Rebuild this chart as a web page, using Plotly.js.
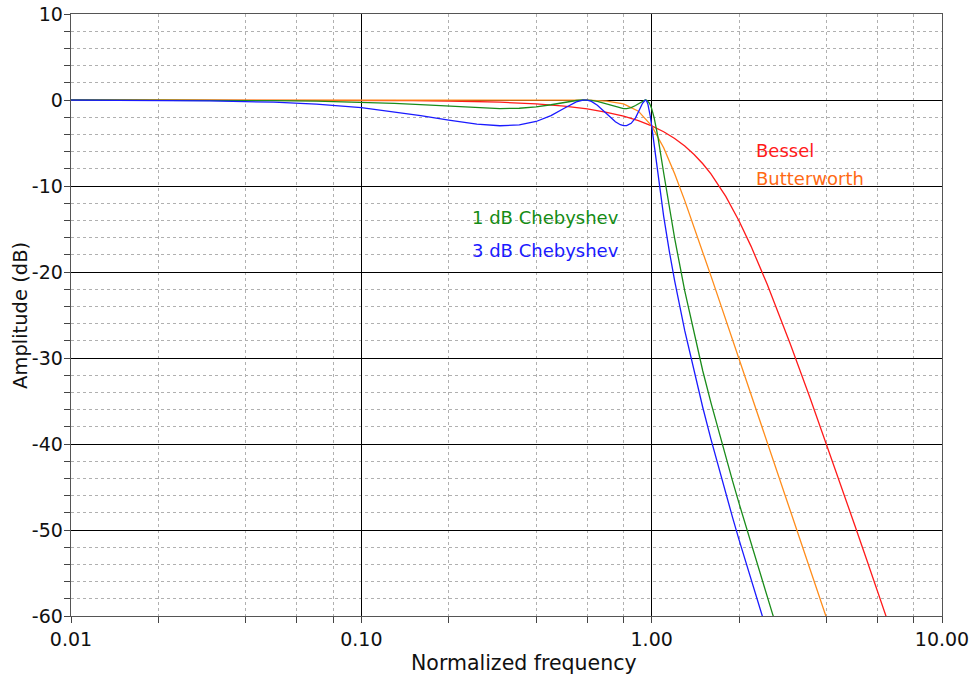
<!DOCTYPE html>
<html>
<head>
<meta charset="utf-8">
<script src="https://cdn.plot.ly/plotly-3.0.1.min.js"></script>
<style>html,body{margin:0;padding:0;background:#fff;}#chart{width:975px;height:681px;}</style>
</head>
<body>
<div id="chart"></div>
<script>
// Normalized frequency samples and amplitudes (dB)
const besselFreq = [0.01,0.02,0.05,0.1,0.15,0.2,0.3,0.4,0.5,0.6,0.7,0.8,0.9,1.0,1.1,1.2,1.3,1.4,1.5,1.6,1.8,2.0,2.2,2.5,2.8,3.0,3.5,4.0,4.5,5.0,5.5,6.0,6.5,7.0];
const besselDb = [-0.0003,-0.0011,-0.0071,-0.0285,-0.0641,-0.114,-0.257,-0.458,-0.720,-1.042,-1.429,-1.882,-2.407,-3.01,-3.697,-4.475,-5.352,-6.331,-7.414,-8.595,-11.212,-14.063,-17.018,-21.431,-25.659,-28.337,-34.515,-40.016,-44.941,-49.389,-53.437,-57.149,-60.573,-63.753];

const butterFreq = [0.01,0.1,0.2,0.3,0.4,0.5,0.6,0.7,0.8,0.9,1.0,1.1,1.2,1.3,1.4,1.5,1.6,1.7,1.8,1.9,2.0,2.2,2.5,2.8,3.0,3.5,4.0,4.5];
const butterDb = [0,0,0,-0.00003,-0.0005,-0.0042,-0.026,-0.121,-0.443,-1.299,-3.010,-5.556,-8.568,-11.699,-14.760,-17.684,-20.452,-23.066,-25.540,-27.882,-30.107,-34.244,-39.794,-44.716,-47.712,-54.407,-60.206,-65.32];

const chebFreq = [0.01,0.02,0.03,0.05,0.07,0.1,0.13,0.16,0.2,0.25,0.3,0.35,0.4,0.45,0.5,0.55,0.58,0.6,0.62,0.65,0.7,0.75,0.78,0.8,0.82,0.85,0.88,0.9,0.91,0.93,0.95,0.96,0.97,0.98,0.99,1.0,1.02,1.05,1.1,1.15,1.2,1.3,1.4,1.5,1.6,1.7,1.8,1.9,2.0,2.2,2.4,2.6,2.8];
const cheb1Db = [-0.0028,-0.0112,-0.0251,-0.0683,-0.1304,-0.2518,-0.3953,-0.5467,-0.7369,-0.9175,-0.998,-0.958,-0.800,-0.551,-0.272,-0.0579,-0.0026,-0.0065,-0.0451,-0.1644,-0.4787,-0.811,-0.950,-0.995,-0.992,-0.883,-0.644,-0.428,-0.313,-0.104,-0.0003,-0.0257,-0.1253,-0.315,-0.605,-1.0,-2.082,-4.219,-8.49,-12.44,-16.09,-22.20,-27.18,-31.51,-35.18,-38.49,-41.52,-44.31,-46.91,-51.62,-55.81,-59.61,-63.07];
const cheb3Db = [-0.0108,-0.0429,-0.0955,-0.2570,-0.4814,-0.8972,-1.3554,-1.8059,-2.3321,-2.797,-2.995,-2.898,-2.498,-1.818,-0.965,-0.2186,-0.0099,-0.0248,-0.1708,-0.6006,-1.6075,-2.527,-2.877,-2.988,-2.981,-2.711,-2.080,-1.454,-1.095,-0.387,-0.0013,-0.0978,-0.463,-1.103,-1.972,-3.0,-5.268,-8.639,-13.522,-17.574,-21.039,-26.824,-31.617,-35.758,-39.429,-42.740,-45.766,-48.558,-51.154,-55.864,-60.062,-63.856,-67.3];

const seriesNames = ['Bessel','Butterworth','1 dB Chebyshev','3 dB Chebyshev'];
const lineColors = ['#ff1a1a','#ff8c1a','#1a8c1a','#1a1aff'];
const textColors = ['#ff1a1a','#ff6a14','#148c14','#1a1aff'];

const xTickVals = [0.01,0.1,1,10];
const xTickText = ['0.01','0.10','1.00','10.00'];
const xMinorVals = [0.02,0.04,0.06,0.08,0.2,0.4,0.6,0.8,2,4,6,8];
const yTickVals = [-60,-50,-40,-30,-20,-10,0,10];
const yTickText = ['-60','-50','-40','-30','-20','-10','0','10'];
const xTitle = 'Normalized frequency';
const yTitle = 'Amplitude (dB)';

const traces = [
  {x: besselFreq, y: besselDb, name: seriesNames[0], color: lineColors[0]},
  {x: butterFreq, y: butterDb, name: seriesNames[1], color: lineColors[1]},
  {x: chebFreq, y: cheb1Db, name: seriesNames[2], color: lineColors[2]},
  {x: chebFreq, y: cheb3Db, name: seriesNames[3], color: lineColors[3]}
].map(s => ({type:'scatter', mode:'lines', x:s.x, y:s.y, name:s.name,
  line:{color:s.color, width:1.3}, hoverinfo:'x+y+name'}));

const fam = 'DejaVu Sans, sans-serif';

const layout = {
  width: 975, height: 681,
  margin: {l:71, r:33, t:14, b:65, pad:0},
  paper_bgcolor:'#fff', plot_bgcolor:'#fff',
  showlegend:false,
  font: {family:fam, size:19, color:'#111'},
  xaxis: {
    type:'log', range:[-2,1], autorange:false,
    tickmode:'array', tickvals:xTickVals, ticktext:xTickText,
    ticks:'outside', ticklen:6, tickcolor:'#444', tickwidth:1,
    showgrid:true, gridcolor:'#000', gridwidth:1,
    showline:true, linecolor:'#555', linewidth:1.3, mirror:true,
    zeroline:false,
    tickfont:{size:19},
    minor:{tickmode:'array', tickvals:xMinorVals, ticks:'outside', ticklen:6, tickcolor:'#444',
           showgrid:true, gridcolor:'#b0b0b0', griddash:'dot', gridwidth:1}
  },
  yaxis: {
    range:[-60,10], autorange:false,
    tickmode:'array', tickvals:yTickVals, ticktext:yTickText,
    ticks:'outside', ticklen:6, tickcolor:'#444', tickwidth:1,
    ticklabelstandoff:-3,
    showgrid:true, gridcolor:'#000', gridwidth:1,
    showline:true, linecolor:'#555', linewidth:1.3, mirror:true,
    zeroline:false,
    tickfont:{size:19},
    minor:{tickmode:'linear', dtick:2, tick0:0, ticks:'outside', ticklen:6, tickcolor:'#444',
           showgrid:true, gridcolor:'#b0b0b0', griddash:'dot', gridwidth:1}
  },
  annotations: [
    {text:xTitle, x:0.5205, y:-0.078, xref:'paper', yref:'paper', xanchor:'center', yanchor:'middle', showarrow:false, font:{size:20.5, color:'#111', family:fam}},
    {text:yTitle, x:-0.0586, y:0.5, xref:'paper', yref:'paper', xanchor:'center', yanchor:'middle', textangle:-90, showarrow:false, font:{size:19.5, color:'#111', family:fam}},
    {text:seriesNames[0], x:Math.log10(2.246), y:-5.9, xref:'x', yref:'y', xanchor:'left', yanchor:'middle', showarrow:false, font:{size:18, color:textColors[0], family:fam}},
    {text:seriesNames[1], x:Math.log10(2.246), y:-9.1, xref:'x', yref:'y', xanchor:'left', yanchor:'middle', showarrow:false, font:{size:18, color:textColors[1], family:fam}},
    {text:seriesNames[2], x:Math.log10(0.2368), y:-13.7, xref:'x', yref:'y', xanchor:'left', yanchor:'middle', showarrow:false, font:{size:18, color:textColors[2], family:fam}},
    {text:seriesNames[3], x:Math.log10(0.2368), y:-17.55, xref:'x', yref:'y', xanchor:'left', yanchor:'middle', showarrow:false, font:{size:18, color:textColors[3], family:fam}}
  ]
};

Plotly.newPlot('chart', traces, layout, {displayModeBar:false, staticPlot:true});
</script>
</body>
</html>
